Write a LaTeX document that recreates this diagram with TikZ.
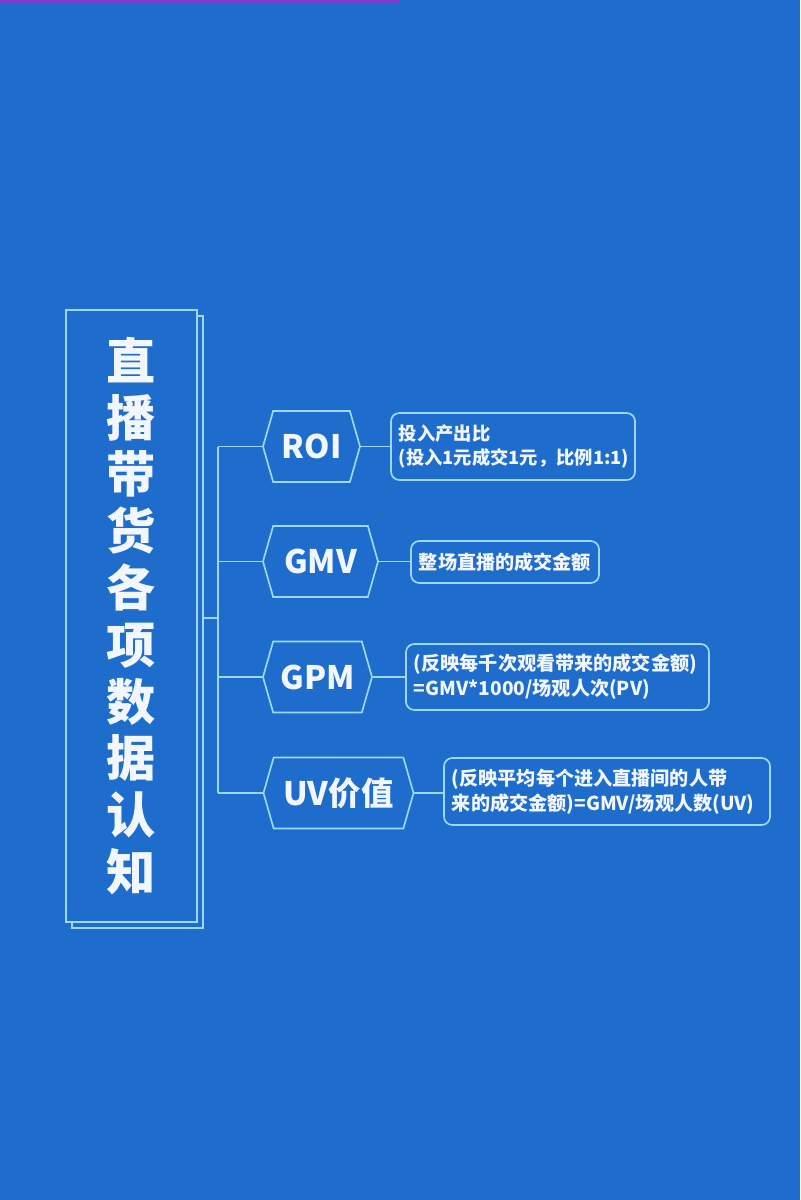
\documentclass[tikz,border=0pt]{standalone}
\usepackage{fontspec}
\setmainfont{Noto Sans CJK SC}
\usetikzlibrary{positioning, shapes.symbols}
\definecolor{zbblue}{HTML}{1E6CCB}
\definecolor{zbline}{HTML}{9ED8F6}
\definecolor{zbtext}{HTML}{F2F6FF}
\definecolor{zbpurple}{HTML}{7A3FCF}
\tikzset{
  titlebox/.style={draw=zbline, line width=1.2pt, fill=zbblue, inner sep=0pt,
    minimum width=3.275cm, minimum height=15.3cm},
  hexbox/.style={draw=zbline, line width=1.2pt, fill=zbblue, shape=signal,
    signal to=east and west, signal pointer angle=148, inner sep=0pt,
    minimum height=1.775cm, text=zbtext,
    font=\fontsize{23}{26}\selectfont\bfseries},
  descbox/.style={draw=zbline, line width=1.2pt, rounded corners=6pt, fill=zbblue,
    inner xsep=0.2cm, inner ysep=0pt, align=left, text=zbtext,
    font=\fontsize{13.6}{17.7}\selectfont\bfseries},
  link/.style={draw=zbline, line width=1.2pt}
}
\begin{document}
\begin{tikzpicture}[x=0.025cm, y=-0.025cm]
  \fill[zbblue] (0,0) rectangle (800,1200);
  \fill[zbpurple] (0,0) rectangle (400,3);

  \node[titlebox] (shadow) at (137.5,622) {};
  \node[titlebox, align=center, text=zbtext,
    font=\fontsize{35}{40.4}\selectfont\bfseries] (title) at (131.5,616)
    {直\\播\\带\\货\\各\\项\\数\\据\\认\\知};

  \node[hexbox, minimum width=2.425cm] (roi) at (311.5,446.5) {ROI};
  \node[hexbox, minimum width=2.875cm] (gmv) at (320.5,561.5) {GMV};
  \node[hexbox, minimum width=2.725cm] (gpm) at (317.5,677) {GPM};
  \node[hexbox, minimum width=3.75cm] (uv) at (338.5,793) {UV价值};

  \node[descbox, text width=5.7cm, minimum height=1.675cm,
    font=\fontsize{13}{17.7}\selectfont\bfseries] (roidesc) at (513,446.5)
    {投入产出比\\(投入1元成交1元，比例1:1)};
  \node[descbox, text width=4.3cm, minimum height=1.05cm] (gmvdesc) at (505,562)
    {整场直播的成交金额};
  \node[descbox, text width=7.175cm, minimum height=1.65cm] (gpmdesc) at (557.5,677)
    {(反映每千次观看带来的成交金额)\\=GMV*1000/场观人次(PV)};
  \node[descbox, text width=7.75cm, minimum height=1.675cm] (uvdesc) at (607,791.5)
    {(反映平均每个进入直播间的人带\\来的成交金额)=GMV/场观人数(UV)};

  \coordinate (jn) at (218,618);
  \draw[link] (shadow.east |- jn) -- (jn);
  \draw[link] (jn |- roi.west) -- (jn |- uv.west);
  \foreach \n in {roi,gmv,gpm,uv} {
    \draw[link] (jn |- \n.west) -- (\n.west);
    \draw[link] (\n.east) -- (\n.east -| \n desc.west);
  }
\end{tikzpicture}
\end{document}
